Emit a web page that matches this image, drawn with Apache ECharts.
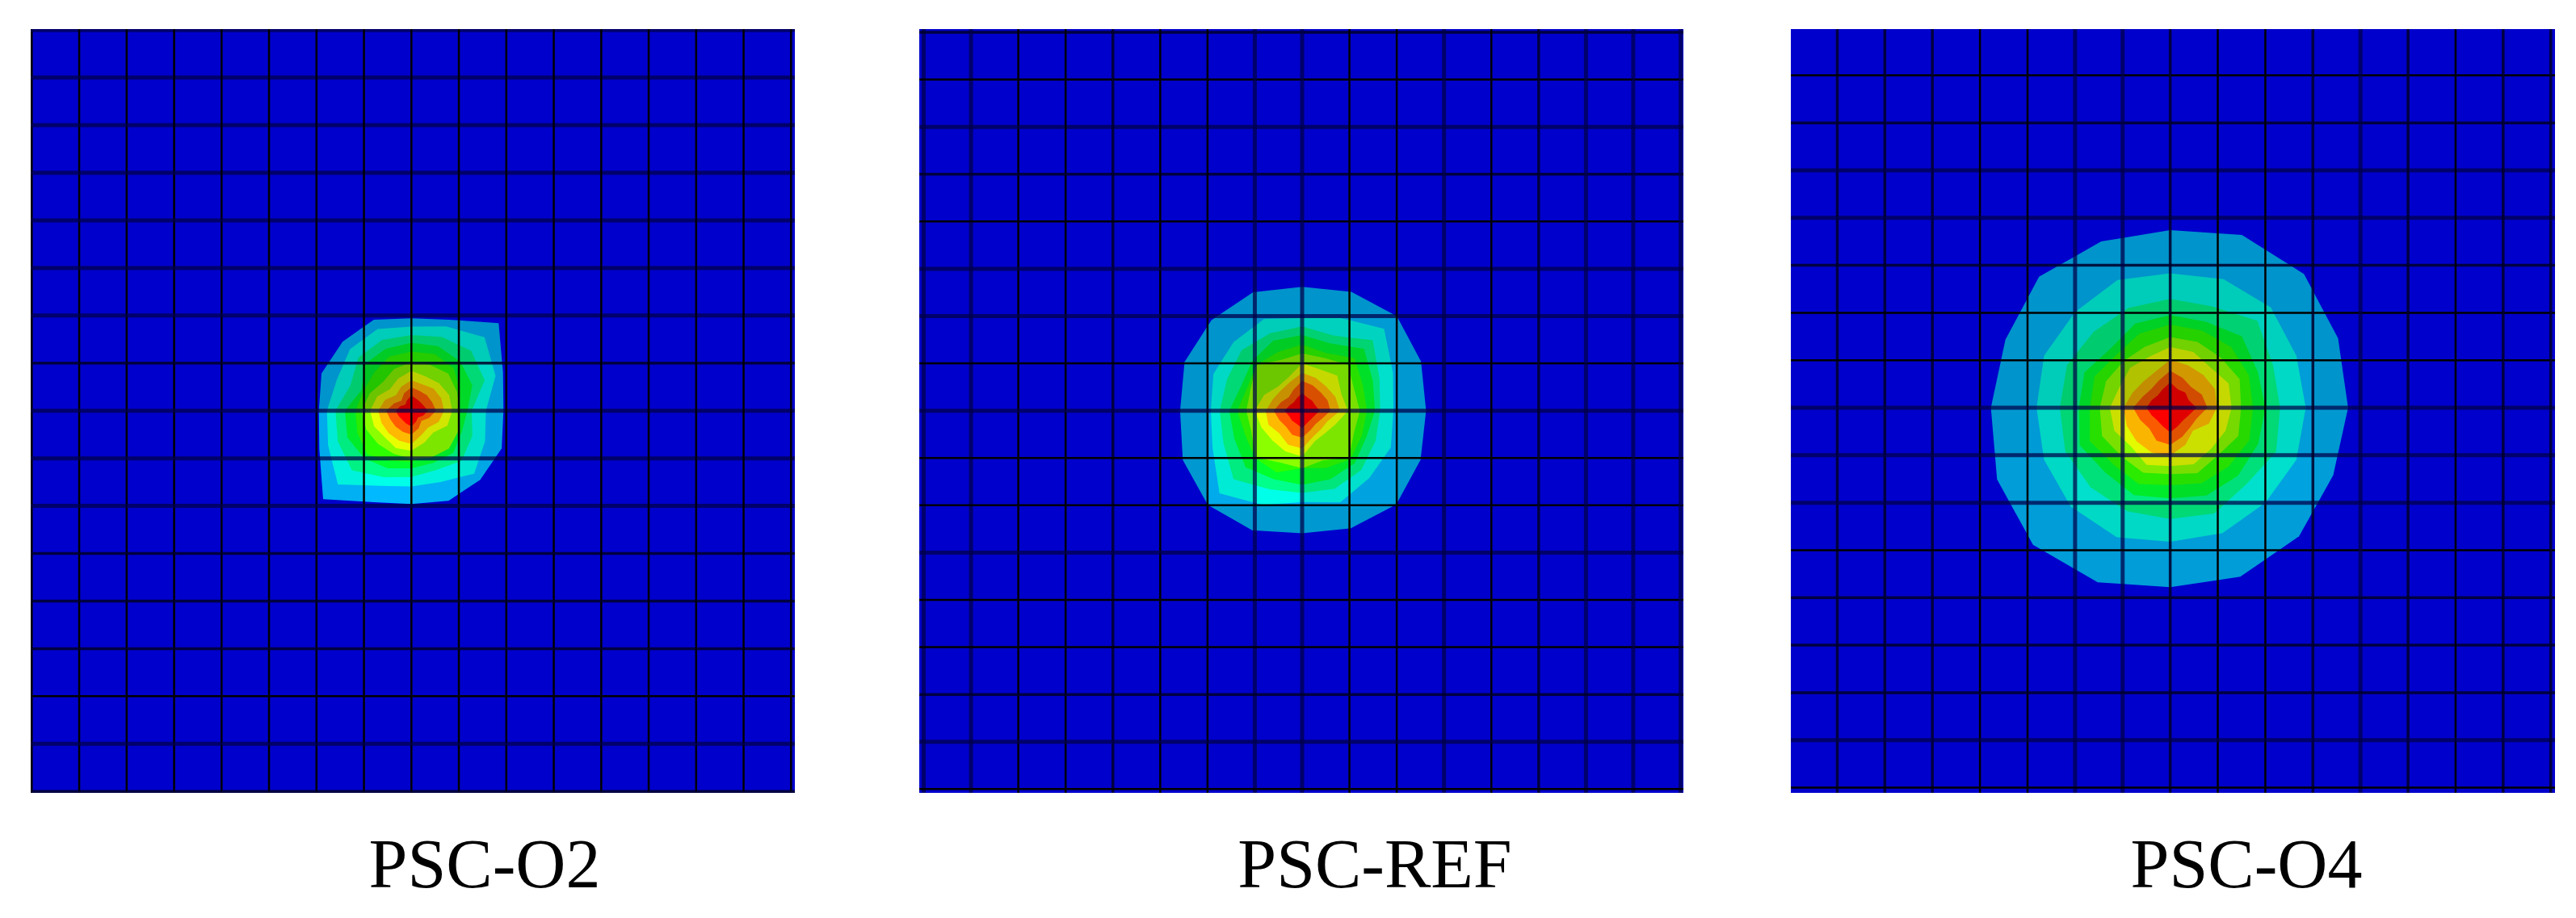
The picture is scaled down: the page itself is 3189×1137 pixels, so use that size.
<!DOCTYPE html>
<html>
<head>
<meta charset="utf-8">
<title>PSC contour plots</title>
<script src="https://cdn.jsdelivr.net/npm/echarts@6/dist/echarts.min.js"></script>
<style>
  html, body { margin: 0; padding: 0; background: #fff; }
  #chart { width: 3189px; height: 1137px; }
</style>
</head>
<body>
<div id="chart"></div>
<script>
// specimen names
const labels = ["PSC-O2", "PSC-REF", "PSC-O4"];

// contour band colours, outermost to peak (lit at full brightness)
const bandColors = ["#00b9ff", "#00ffe8", "#00ff8b", "#00ff2e", "#2eff00", "#8bff00", "#e8ff00", "#ffb900", "#ff5d00", "#ff0000"];

// band outlines: distance from the load point in mesh cells, read along 16 directions
// order: E ENE NE NNE N NNW NW WNW W WSW SW SSW S SSE SE ESE
const radiiO2 = [
  [1.94, 2.09, 2.60, 2.07, 1.94, 2.07, 2.05, 2.05, 1.95, 2.10, 2.63, 2.08, 1.96, 2.05, 2.05, 2.06],
  [1.57, 1.92, 2.18, 1.92, 1.77, 1.86, 1.83, 1.70, 1.78, 1.90, 2.19, 1.71, 1.59, 1.62, 1.87, 1.68],
  [1.27, 1.67, 1.78, 1.68, 1.59, 1.61, 1.58, 1.39, 1.60, 1.68, 1.77, 1.51, 1.39, 1.35, 1.49, 1.39],
  [1.18, 1.39, 1.46, 1.47, 1.43, 1.41, 1.39, 1.14, 1.40, 1.46, 1.41, 1.31, 1.21, 1.19, 1.25, 1.15],
  [1.00, 1.11, 1.26, 1.29, 1.24, 1.23, 1.12, 1.09, 1.18, 1.23, 1.31, 1.14, 1.07, 0.99, 1.08, 1.00],
  [1.02, 1.04, 1.10, 1.04, 1.02, 0.95, 0.85, 0.95, 1.05, 1.03, 0.99, 0.98, 1.01, 1.07, 1.12, 1.08],
  [0.86, 0.86, 0.82, 0.78, 0.84, 0.73, 0.64, 0.78, 0.87, 0.85, 0.79, 0.85, 0.84, 0.72, 0.65, 0.82],
  [0.69, 0.68, 0.66, 0.60, 0.64, 0.55, 0.46, 0.60, 0.70, 0.68, 0.67, 0.68, 0.70, 0.55, 0.50, 0.62],
  [0.52, 0.47, 0.46, 0.45, 0.49, 0.40, 0.30, 0.40, 0.53, 0.48, 0.47, 0.48, 0.50, 0.40, 0.30, 0.40],
  [0.35, 0.28, 0.26, 0.27, 0.32, 0.24, 0.18, 0.25, 0.33, 0.29, 0.27, 0.29, 0.33, 0.25, 0.20, 0.27]
];
const radiiRef = [
  [2.62, 2.72, 2.83, 2.72, 2.62, 2.71, 2.71, 2.69, 2.58, 2.73, 2.82, 2.74, 2.59, 2.69, 2.81, 2.71],
  [1.93, 2.08, 2.45, 2.12, 1.96, 2.10, 2.05, 2.03, 1.93, 2.05, 2.47, 2.16, 1.93, 2.10, 2.01, 2.03],
  [1.65, 1.77, 2.11, 1.72, 1.78, 1.77, 1.81, 1.72, 1.74, 1.80, 2.05, 1.80, 1.74, 1.79, 1.77, 1.68],
  [1.54, 1.62, 1.85, 1.54, 1.60, 1.60, 1.49, 1.39, 1.54, 1.55, 1.69, 1.57, 1.57, 1.57, 1.57, 1.47],
  [1.37, 1.39, 1.57, 1.32, 1.40, 1.34, 1.37, 1.26, 1.37, 1.31, 1.41, 1.41, 1.22, 1.31, 1.45, 1.37],
  [1.22, 1.19, 1.37, 1.21, 1.21, 1.16, 1.37, 1.18, 1.18, 1.16, 1.40, 1.19, 1.22, 1.14, 1.40, 1.19],
  [0.97, 0.90, 1.05, 0.95, 1.00, 0.76, 0.72, 0.87, 1.00, 0.93, 0.89, 0.93, 0.97, 0.70, 0.68, 0.76],
  [0.80, 0.76, 0.72, 0.75, 0.80, 0.66, 0.62, 0.66, 0.77, 0.77, 0.68, 0.78, 0.80, 0.60, 0.56, 0.58],
  [0.60, 0.58, 0.55, 0.58, 0.63, 0.48, 0.40, 0.48, 0.60, 0.52, 0.48, 0.55, 0.57, 0.45, 0.40, 0.45],
  [0.37, 0.30, 0.30, 0.30, 0.37, 0.29, 0.25, 0.29, 0.37, 0.30, 0.30, 0.30, 0.37, 0.28, 0.26, 0.28]
];
const radiiO4 = [
  [3.74, 3.82, 3.98, 3.94, 3.74, 3.79, 3.90, 3.75, 3.77, 3.94, 4.08, 3.98, 3.78, 3.85, 3.83, 3.71],
  [2.85, 2.87, 2.99, 2.93, 2.83, 2.91, 2.84, 2.87, 2.81, 2.87, 2.95, 2.95, 2.82, 2.86, 2.83, 2.87],
  [2.31, 2.34, 2.59, 2.31, 2.29, 2.28, 2.27, 2.35, 2.32, 2.39, 2.37, 2.36, 2.34, 2.41, 2.27, 2.41],
  [2.00, 1.99, 2.13, 1.96, 1.95, 1.92, 1.77, 1.95, 1.92, 2.06, 1.93, 1.99, 1.91, 2.00, 2.02, 2.00],
  [1.74, 1.79, 1.81, 1.76, 1.75, 1.69, 1.59, 1.72, 1.69, 1.83, 1.69, 1.74, 1.63, 1.72, 1.74, 1.80],
  [1.49, 1.58, 1.50, 1.50, 1.49, 1.39, 1.39, 1.46, 1.48, 1.55, 1.45, 1.48, 1.40, 1.49, 1.42, 1.55],
  [1.29, 1.33, 1.20, 1.27, 1.28, 1.16, 1.19, 1.15, 1.27, 1.27, 1.16, 1.30, 1.23, 1.29, 1.22, 1.26],
  [0.98, 1.02, 0.98, 0.97, 1.01, 0.82, 0.79, 0.85, 0.98, 0.99, 1.00, 1.02, 1.01, 0.84, 0.68, 0.88],
  [0.78, 0.72, 0.62, 0.68, 0.78, 0.62, 0.56, 0.62, 0.78, 0.68, 0.62, 0.75, 0.78, 0.66, 0.59, 0.60],
  [0.55, 0.42, 0.45, 0.42, 0.53, 0.42, 0.37, 0.42, 0.50, 0.42, 0.38, 0.42, 0.52, 0.42, 0.38, 0.42]
];

// element brightness (surface lighting), central block of the mesh, rows top to bottom
const shadeO2 = [
  [0.80, 0.80, 0.80, 0.80],
  [0.80, 0.77, 0.82, 0.85],
  [0.92, 1.00, 0.90, 0.88],
  [0.95, 1.00, 0.95, 0.90]
];
const shadeRef = [
  [0.80, 0.80, 0.80, 0.80, 0.80, 0.80],
  [0.80, 0.80, 0.80, 0.82, 0.83, 0.80],
  [0.80, 0.85, 0.78, 0.85, 0.88, 0.82],
  [0.82, 0.92, 1.00, 0.90, 0.88, 0.82],
  [0.82, 0.92, 1.00, 0.90, 0.88, 0.82],
  [0.82, 0.82, 0.82, 0.82, 0.82, 0.82]
];
const shadeO4 = [
  [0.80, 0.80, 0.80, 0.80, 0.80, 0.80, 0.80, 0.80],
  [0.80, 0.80, 0.80, 0.80, 0.80, 0.80, 0.80, 0.80],
  [0.80, 0.80, 0.80, 0.82, 0.82, 0.82, 0.82, 0.80],
  [0.80, 0.80, 0.83, 0.76, 0.82, 0.85, 0.85, 0.80],
  [0.82, 0.84, 0.88, 0.98, 0.88, 0.85, 0.85, 0.82],
  [0.85, 0.85, 0.88, 0.92, 0.87, 0.88, 0.88, 0.85],
  [0.85, 0.85, 0.85, 0.85, 0.85, 0.85, 0.85, 0.85],
  [0.85, 0.85, 0.85, 0.85, 0.85, 0.85, 0.85, 0.85]
];

const meshCells = 16;
const sheetBlue = "#0000cc";

// line looks for the mesh, as seen after the figure was resampled
const lineLooks = [
  { color: "#000000", width: 2.5 },
  { color: "rgba(0,0,40,0.85)", width: 3.5 },
  { color: "rgba(0,0,70,0.72)", width: 5 }
];

// layout of each panel: grid is the blue sheet, axis ranges place the mesh on it
const panels = [
  {
    radii: radiiO2, shade: shadeO2,
    grid: { left: 38, top: 36, width: 946, height: 946 },
    xRange: [-0.022, 16.08], yRange: [-0.02, 16.03],
    labelX: 595,
    xLook: [0, 0, 0, 0, 0, 0, 0, 0, 0, 0, 0, 0, 0, 0, 0, 0, 0],
    yLook: [2, 2, 2, 2, 2, 2, 2, 1, 2, 2, 2, 1, 1, 1, 0, 2, 1]
  },
  {
    radii: radiiRef, shade: shadeRef,
    grid: { left: 1138, top: 36, width: 946, height: 946 },
    xRange: [-0.094, 16.06], yRange: [-0.068, 16.08],
    labelX: 1697,
    xLook: [2, 2, 0, 0, 1, 0, 0, 2, 2, 0, 0, 2, 0, 1, 2, 2, 2],
    yLook: [1, 0, 2, 1, 0, 2, 2, 0, 2, 0, 0, 2, 0, 0, 1, 2, 0]
  },
  {
    radii: radiiO4, shade: shadeO4,
    grid: { left: 2217, top: 36, width: 946, height: 946 },
    xRange: [0.024, 16.09], yRange: [0.025, 16.11],
    labelX: 2776,
    xLook: [1, 1, 1, 1, 0, 0, 2, 2, 1, 0, 0, 1, 2, 1, 0, 1, 1],
    yLook: [1, 0, 1, 2, 2, 1, 0, 0, 2, 2, 2, 0, 1, 1, 1, 2, 0]
  }
];

// 16 outline directions turned into mesh coordinates around the centre node
function outline(radii) {
  return radii.map((r, k) => {
    const a = (k * Math.PI) / 8;
    return [meshCells / 2 + r * Math.cos(a), meshCells / 2 - r * Math.sin(a)];
  });
}

// clip a polygon to one mesh cell (Sutherland-Hodgman)
function clipToCell(poly, col, row) {
  const edges = [
    [0, col, 1], [0, col + 1, -1],
    [1, row, 1], [1, row + 1, -1]
  ];
  let out = poly;
  edges.forEach(([axis, lim, sign]) => {
    const input = out;
    out = [];
    input.forEach((p, i) => {
      const q = input[(i + 1) % input.length];
      const pIn = (p[axis] - lim) * sign >= 0;
      const qIn = (q[axis] - lim) * sign >= 0;
      if (pIn) out.push(p);
      if (pIn !== qIn) {
        const t = (lim - p[axis]) / (q[axis] - p[axis]);
        out.push([p[0] + t * (q[0] - p[0]), p[1] + t * (q[1] - p[1])]);
      }
    });
  });
  return out;
}

function shadeColor(hex, b) {
  const n = parseInt(hex.slice(1), 16);
  const ch = [(n >> 16) & 255, (n >> 8) & 255, n & 255].map(v => Math.round(v * b));
  return "rgb(" + ch.join(",") + ")";
}

function cellBrightness(shade, col, row) {
  const start = meshCells / 2 - shade.length / 2;
  const line = shade[row - start];
  if (!line) return 0.8;
  const v = line[col - start];
  return v === undefined ? 0.8 : v;
}

// one piece per band per cell, so every element keeps its own lighting
function bandSeries(panel, idx) {
  const outlines = panel.radii.map(outline);
  const pieces = [];
  outlines.forEach((poly, band) => {
    for (let row = 0; row < meshCells; row++) {
      for (let col = 0; col < meshCells; col++) {
        if (clipToCell(poly, col, row).length > 2) pieces.push([col, row, band]);
      }
    }
  });
  return {
    type: "custom",
    xAxisIndex: idx,
    yAxisIndex: idx,
    silent: true,
    animation: false,
    z: 2,
    data: pieces,
    renderItem: (params, api) => {
      const col = api.value(0), row = api.value(1), band = api.value(2);
      const pts = clipToCell(outlines[band], col, row).map(p => api.coord(p));
      return {
        type: "polygon",
        shape: { points: pts },
        style: {
          fill: shadeColor(bandColors[band], cellBrightness(panel.shade, col, row)),
          stroke: null
        }
      };
    }
  };
}

function meshSeries(panel, idx) {
  const lines = [];
  for (let i = 0; i <= meshCells; i++) {
    lines.push([0, i]);
    lines.push([1, i]);
  }
  return {
    type: "custom",
    xAxisIndex: idx,
    yAxisIndex: idx,
    silent: true,
    animation: false,
    clip: true,
    z: 3,
    data: lines,
    renderItem: (params, api) => {
      const dir = api.value(0), i = api.value(1);
      const range = dir === 0 ? panel.xRange : panel.yRange;
      if (i < range[0] || i > range[1]) return null;
      const a = dir === 0 ? api.coord([i, panel.yRange[0]]) : api.coord([panel.xRange[0], i]);
      const b = dir === 0 ? api.coord([i, panel.yRange[1]]) : api.coord([panel.xRange[1], i]);
      const look = lineLooks[(dir === 0 ? panel.xLook : panel.yLook)[i]];
      return {
        type: "line",
        shape: { x1: a[0], y1: a[1], x2: b[0], y2: b[1] },
        style: { stroke: look.color, lineWidth: look.width }
      };
    }
  };
}

const myChart = echarts.init(document.getElementById("chart"));
myChart.setOption({
  backgroundColor: "#ffffff",
  animation: false,
  title: panels.map((p, i) => ({
    text: labels[i],
    left: p.labelX,
    top: 1028,
    textAlign: "center",
    textStyle: { fontFamily: "Liberation Serif", fontSize: 86, fontWeight: "normal", color: "#000" }
  })),
  grid: panels.map(p => ({
    ...p.grid,
    show: true,
    backgroundColor: sheetBlue,
    borderWidth: 0
  })),
  xAxis: panels.map((p, i) => ({
    type: "value", gridIndex: i, show: false, min: p.xRange[0], max: p.xRange[1]
  })),
  yAxis: panels.map((p, i) => ({
    type: "value", gridIndex: i, show: false, inverse: true, min: p.yRange[0], max: p.yRange[1]
  })),
  series: panels.flatMap((p, i) => [bandSeries(p, i), meshSeries(p, i)])
});

window.addEventListener("resize", () => {
  myChart.resize();
});
</script>
</body>
</html>
